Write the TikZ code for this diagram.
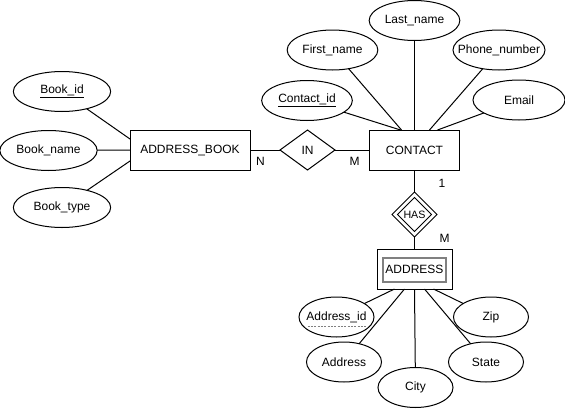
\documentclass[tikz,border=0pt]{standalone}
\usepackage{fontspec}
\setmainfont{Liberation Sans}
\usetikzlibrary{shapes.geometric,calc}
% attribute text that never widens its ellipse
\newcommand{\attrtext}[1]{\makebox[0pt]{#1}}
\begin{document}
\begin{tikzpicture}[x=0.75pt,y=-0.75pt,
  font=\fontsize{9pt}{10pt}\selectfont,
  every node/.style={inner sep=0pt, outer sep=0pt},
  attr/.style={draw, line width=0.75pt, ellipse, minimum height=30pt},
  entity/.style={draw, line width=0.75pt, rectangle, minimum height=30pt},
  rel/.style={draw, line width=0.75pt, diamond, aspect=1.375},
  link/.style={line width=0.75pt},
  card/.style={anchor=center}]
\useasboundingbox (0,0) rectangle (565,408);

% entities
\node[entity, minimum width=90pt] (book) at (190,150) {ADDRESS\_BOOK};
\node[entity, minimum width=67.5pt] (contact) at (414.5,150) {CONTACT};
\node[entity, minimum width=56.25pt] (address) at (414.5,269) {};
\node[draw=black!50, line width=1.5pt, minimum width=47.25pt, minimum height=18pt] (addressin) at (414.5,269.5) {ADDRESS};

% relationships
\node[rel, minimum width=41.25pt, minimum height=30pt] (in) at (307.5,150) {IN};
\node[draw, line width=0.75pt, diamond, minimum width=33.75pt, minimum height=33.75pt] (has) at (414.5,214.5) {};
\node[draw, line width=0.75pt, diamond, minimum width=25.5pt, minimum height=25.5pt, font=\fontsize{8pt}{9pt}\selectfont] (hasin) at (414.5,214.5) {HAS};

% attributes of ADDRESS_BOOK
\node[attr, minimum width=73pt] (bookid) at (62,91.5) {\attrtext{\underline{Book\_id}}};
\node[attr, minimum width=73pt] (bookname) at (48.5,150.5) {\attrtext{Book\_name}};
\node[attr, minimum width=73pt] (booktype) at (62,207.5) {\attrtext{Book\_type}};

% attributes of CONTACT
\node[attr, minimum width=68pt] (contactid) at (307,100.5) {\attrtext{\underline{Contact\_id}}};
\node[attr, minimum width=68pt] (firstname) at (332.5,50) {\attrtext{First\_name}};
\node[attr, minimum width=68pt] (lastname) at (414.5,20.5) {\attrtext{Last\_name}};
\node[attr, minimum width=69pt] (phone) at (499,50) {\attrtext{Phone\_number}};
\node[attr, minimum width=69pt] (email) at (519,100) {\attrtext{Email}};

% attributes of ADDRESS
\node[attr, minimum width=56.25pt] (addrid) at (336.5,317) {\attrtext{Address\_id}};
\draw[black!50, line width=0.6pt, dash pattern=on 1.5pt off 1pt]
  ($(addrid.center)+(-29,9)$) -- ($(addrid.center)+(29,9)$);
\node[attr, minimum width=56.25pt] (addr) at (344,362) {\attrtext{Address}};
\node[attr, minimum width=56.25pt] (city) at (415.5,387.5) {\attrtext{City}};
\node[attr, minimum width=56.25pt] (state) at (486,362) {\attrtext{State}};
\node[attr, minimum width=56.25pt] (zip) at (491,317) {\attrtext{Zip}};

% attachment points on entity borders
\coordinate (b1) at ($(book.west)+(0,-11)$);
\coordinate (b2) at ($(book.west)+(0,11)$);
\coordinate (c1) at ($(contact.north)+(-14,0)$);
\coordinate (c2) at ($(contact.north)+(-13,0)$);
\coordinate (c3) at ($(contact.north)+(15,0)$);
\coordinate (c4) at ($(contact.north)+(23,0)$);
\coordinate (a1) at ($(address.south)+(-20,0)$);
\coordinate (a2) at ($(address.south)+(-10,0)$);
\coordinate (a3) at ($(address.south)+(10,0)$);
\coordinate (a4) at ($(address.south)+(19,0)$);

% connectors
\draw[link] (bookid) -- (b1);
\draw[link] (bookname) -- (book.west);
\draw[link] (booktype) -- (b2);
\draw[link] (contactid) -- (c1);
\draw[link] (firstname) -- (c2);
\draw[link] (lastname) -- (contact.north);
\draw[link] (phone) -- (c3);
\draw[link] (email) -- (c4);
\draw[link] (book.east) -- (in.west);
\draw[link] (in.east) -- (contact.west);
\draw[link] (contact.south) -- (has.north);
\draw[link] (has.south) -- (address.north);
\draw[link] (addrid) -- (a1);
\draw[link] (addr) -- (a2);
\draw[link] (city) -- (address.south);
\draw[link] (state) -- (a3);
\draw[link] (zip) -- (a4);

% cardinalities
\node[card] (n1) at (260.5,161) {N};
\node[card] (m1) at (354.5,161) {M};
\node[card] (one) at (442,183) {1};
\node[card] (m2) at (444.5,238) {M};
\end{tikzpicture}
\end{document}
